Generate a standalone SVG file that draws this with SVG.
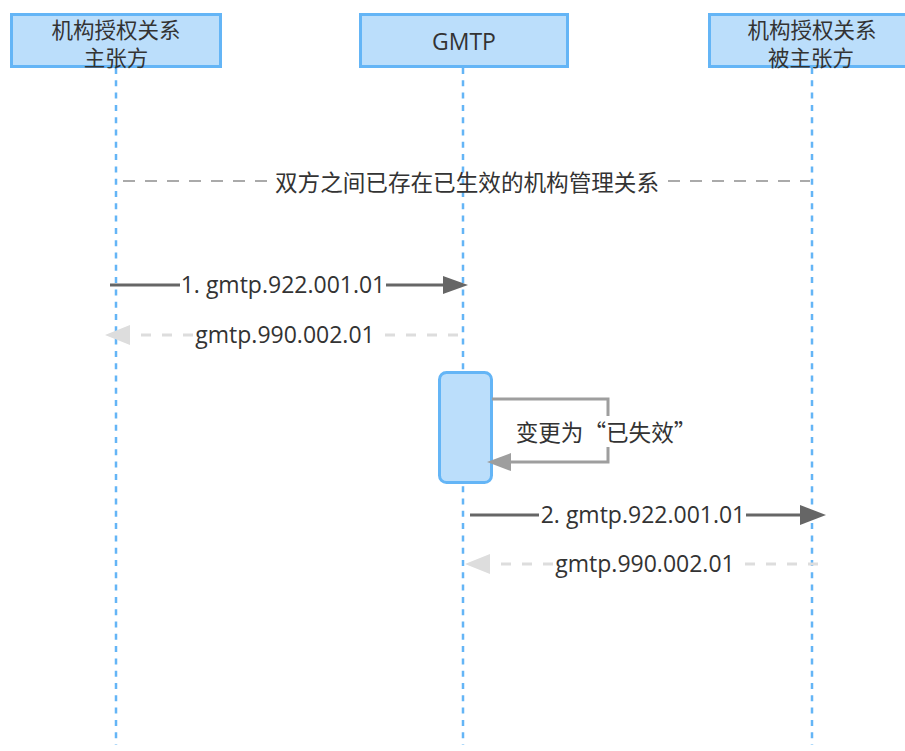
<svg xmlns="http://www.w3.org/2000/svg" width="905" height="751" viewBox="0 0 905 751">
<style>
.box{fill:#BBDEFB;stroke:#64B5F6;stroke-width:3}
.life{stroke:#64B5F6;stroke-width:2.5;stroke-dasharray:6 6.3;fill:none}
.t{font-family:"Noto Sans CJK SC","Noto Sans",sans-serif;fill:#333;dominant-baseline:central;text-anchor:middle}
.cjk{font-size:22.6px}
.hd{font-size:21.5px}
.lat{font-family:"Open Sans","Noto Sans",sans-serif;font-size:23px}
.msg{stroke:#666;stroke-width:3;fill:none}
.ret{stroke:#ddd;stroke-width:3;fill:none;stroke-dasharray:10 11}
.note{stroke:#aaa;stroke-width:2;fill:none;stroke-dasharray:12 10}
.self{stroke:#9e9e9e;stroke-width:3;fill:none}
</style>
<rect width="905" height="751" fill="#fff"/>
<g id="lifelines">
<line class="life" x1="116" y1="68" x2="116" y2="745"/>
<line class="life" x1="463" y1="68" x2="463" y2="745"/>
<line class="life" x1="812" y1="68" x2="812" y2="745"/>
</g>
<g id="node-a">
<rect class="box" x="11.5" y="14.5" width="209" height="52"/>
<text class="t hd" x="116" y="28.5">机构授权关系</text>
<text class="t hd" x="116" y="56.5">主张方</text>
</g>
<g id="node-gmtp">
<rect class="box" x="360.5" y="14.5" width="207" height="52"/>
<text class="t lat" x="464" y="41">GMTP</text>
</g>
<g id="node-b">
<rect class="box" x="709.5" y="14.5" width="210" height="52"/>
<text class="t hd" x="812" y="28.5">机构授权关系</text>
<text class="t hd" x="811" y="56.5">被主张方</text>
</g>
<g id="activation">
<rect class="box" x="439.5" y="372.5" width="52" height="110" rx="7"/>
</g>
<g id="connectors">
<line class="note" x1="123" y1="181" x2="267" y2="181"/>
<line class="note" x1="668" y1="181" x2="810" y2="181"/>
<text class="t cjk" x="467" y="181">双方之间已存在已生效的机构管理关系</text>

<line class="msg" x1="110" y1="285" x2="180" y2="285"/>
<line class="msg" x1="386" y1="285" x2="446" y2="285"/>
<polygon points="443,276 468,285 443,294" fill="#666"/>
<text class="t lat" x="283" y="284">1. gmtp.922.001.01</text>

<line class="ret" x1="458" y1="335" x2="378" y2="335"/>
<line class="ret" x1="193" y1="335" x2="128" y2="335"/>
<polygon points="130,325 105,335 130,345" fill="#ddd"/>
<text class="t lat" x="285" y="334">gmtp.990.002.01</text>

<polyline class="self" points="492,399 608,399 608,416"/>
<polyline class="self" points="608,447 608,462 508,462"/>
<polygon points="511,453 487,462 511,471" fill="#9e9e9e"/>
<text class="t cjk" x="606" y="431">变更为“已失效”</text>

<line class="msg" x1="470" y1="515" x2="539" y2="515"/>
<line class="msg" x1="746" y1="515" x2="803" y2="515"/>
<polygon points="800,505 826,515 800,525" fill="#666"/>
<text class="t lat" x="643" y="514">2. gmtp.922.001.01</text>

<line class="ret" x1="818" y1="564" x2="737" y2="564"/>
<line class="ret" x1="553" y1="564" x2="488" y2="564"/>
<polygon points="490,554 465,564 490,574" fill="#ddd"/>
<text class="t lat" x="645" y="563">gmtp.990.002.01</text>
</g>
</svg>
